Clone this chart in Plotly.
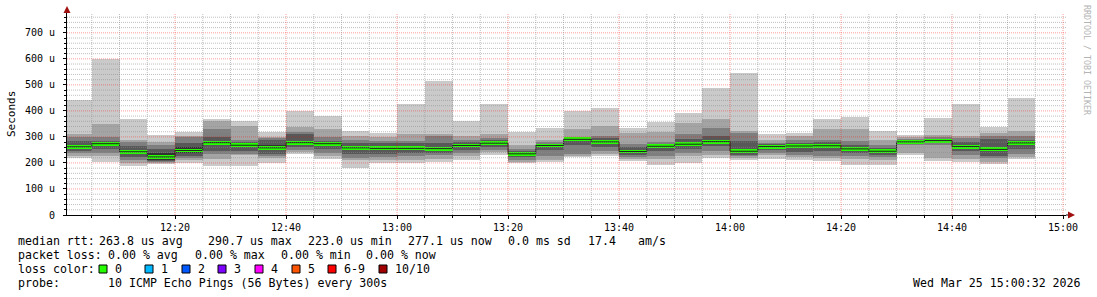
import plotly.graph_objects as go
import pandas as pd

# ---------------- data ----------------
bar_start = ["12:00", "12:05", "12:10", "12:15", "12:20", "12:25", "12:30", "12:35", "12:40", "12:45",
             "12:50", "12:55", "13:00", "13:05", "13:10", "13:15", "13:20", "13:25", "13:30", "13:35",
             "13:40", "13:45", "13:50", "13:55", "14:00", "14:05", "14:10", "14:15", "14:20", "14:25",
             "14:30", "14:35", "14:40", "14:45", "14:50"]
# sorted ping round-trip times per 5-minute step, in microseconds
ping1 = [218, 205, 188, 196, 200, 190, 190, 198, 235, 216, 182, 198, 200, 205, 213, 231, 198, 204, 221, 227,
         208, 193, 198, 218, 213, 216, 210, 207, 193, 192, 229, 209, 204, 195, 216]
ping2 = [228, 225, 200, 200, 210, 215, 230, 218, 242, 228, 210, 212, 210, 215, 225, 243, 205, 212, 228, 235,
         215, 215, 225, 230, 218, 232, 222, 218, 215, 210, 237, 220, 215, 205, 222]
ping3 = [237, 240, 212, 203, 218, 235, 235, 225, 250, 240, 220, 222, 225, 230, 238, 250, 210, 225, 235, 245,
         222, 228, 240, 245, 225, 238, 232, 228, 228, 222, 268, 268, 232, 218, 235]
ping4 = [245, 255, 222, 207, 228, 245, 245, 235, 260, 255, 235, 235, 240, 240, 250, 262, 222, 250, 270, 260,
         230, 245, 255, 265, 232, 250, 242, 245, 240, 230, 272, 275, 245, 225, 255]
ping5 = [255, 265, 235, 212, 238, 270, 260, 250, 270, 268, 250, 248, 250, 250, 262, 271, 230, 262, 285, 275,
         238, 258, 266, 276, 238, 258, 258, 260, 248, 240, 278, 283, 255, 245, 272]
ping6 = [268, 278, 250, 240, 260, 285, 275, 270, 285, 278, 265, 262, 262, 260, 272, 281, 240, 270, 293, 287,
         250, 268, 280, 290, 255, 267, 270, 272, 262, 250, 284, 289, 268, 260, 281]
ping7 = [285, 285, 265, 255, 275, 300, 280, 288, 310, 285, 275, 275, 275, 275, 280, 288, 245, 272, 296, 295,
         262, 272, 292, 305, 285, 272, 278, 280, 270, 258, 287, 292, 280, 293, 290]
ping8 = [300, 298, 280, 268, 300, 330, 290, 295, 318, 300, 290, 285, 286, 305, 290, 296, 255, 280, 300, 305,
         274, 280, 312, 336, 315, 278, 290, 290, 285, 268, 292, 300, 295, 305, 304]
ping9 = [313, 350, 290, 280, 305, 360, 342, 300, 340, 332, 305, 300, 312, 310, 302, 312, 270, 290, 332, 343,
         315, 318, 354, 369, 323, 288, 304, 331, 332, 290, 300, 308, 305, 315, 323]
ping10 = [440, 600, 370, 308, 318, 370, 362, 318, 398, 380, 322, 316, 427, 516, 362, 427, 318, 336, 400, 413,
          336, 359, 392, 489, 546, 312, 316, 368, 378, 322, 307, 374, 427, 338, 451]
median = [262, 274, 243, 223, 248, 278, 268, 258, 278, 274, 258, 256, 256, 255, 267, 276, 235, 267, 290.7, 281,
          244, 264, 272, 282, 245, 263, 265, 266, 254, 245, 281, 286, 263, 252, 277.1]

y_tick_vals = [0, 100, 200, 300, 400, 500, 600, 700]
y_tick_text = ["0", "100 u", "200 u", "300 u", "400 u", "500 u", "600 u", "700 u"]

legend_row1 = [("median rtt:", 16), ("263.8 us avg", 97), ("290.7 us max", 206), ("223.0 us min", 306),
               ("277.1 us now", 406), ("0.0 ms sd", 506), ("17.4", 586), ("am/s", 636)]
legend_row2 = [("packet loss:", 16), ("0.00 % avg", 106), ("0.00 % max", 193), ("0.00 % min", 279),
               ("0.00 % now", 364)]
loss_labels = ["0", "1", "2", "3", "4", "5", "6-9", "10/10"]
loss_colors = ["#26ff00", "#00b8ff", "#0059ff", "#7e00ff", "#ff00ff", "#ff5500", "#ff0000", "#a00000"]
loss_box_x = [99, 145, 182, 218, 255, 292, 328, 379]
probe_text = "10 ICMP Echo Pings (56 Bytes) every 300s"
stamp_text = "Wed Mar 25 15:00:32 2026"

# ---------------- geometry ----------------
W, H = 1097, 297
L, R, T, B = 67, 31, 12, 82
PW = W - L - R
PH = H - T - B
Y_BOTTOM = H - B


def px(x):
    return (x - L) / PW


def py(y):
    return (Y_BOTTOM - y) / PH


day = "2026-03-25 "
starts = pd.to_datetime([day + s for s in bar_start])
centers = starts + pd.Timedelta(minutes=2.5)
ends = starts + pd.Timedelta(minutes=5)

fig = go.Figure()

pings = [ping1, ping2, ping3, ping4, ping5, ping6, ping7, ping8, ping9, ping10]
band_colors = ["#cacaca", "#a4a4a4", "#7e7e7e", "#585858", "#323232"]
for k in range(5):
    lo = pings[k]
    hi = pings[9 - k]
    fig.add_trace(go.Bar(
        x=centers, base=lo, y=[h - l for h, l in zip(hi, lo)], width=300000,
        marker=dict(color=band_colors[k], line=dict(width=0)),
        hoverinfo="skip", showlegend=False))

# dark median step line
fig.add_trace(go.Scatter(
    x=list(starts) + [ends[-1]], y=median + [median[-1]], mode="lines",
    line=dict(shape="hv", color="#202020", width=1), hoverinfo="skip", showlegend=False))

# loss-coloured median band
fig.add_trace(go.Bar(
    x=centers, base=[m - 7.5 for m in median], y=[15] * len(median), width=300000,
    marker=dict(color=loss_colors[0], line=dict(width=0)), hoverinfo="skip", showlegend=False))

mono = "DejaVu Sans Mono"
x0 = pd.Timestamp("2026-03-25 12:00:32")
x1 = pd.Timestamp("2026-03-25 15:00:32")

fig.update_layout(
    width=W, height=H, margin=dict(l=L, r=R, t=T, b=B, pad=0),
    paper_bgcolor="white", plot_bgcolor="white", barmode="overlay", bargap=0,
    showlegend=False, font=dict(family=mono, color="black"))

fig.update_xaxes(
    range=[x0, x1], tickformat="%H:%M", dtick=20 * 60 * 1000, tick0="2026-03-25 12:00:00",
    showgrid=False, zeroline=False, showline=True, linecolor="black", linewidth=1,
    ticks="outside", ticklen=3, tickcolor="black", tickfont=dict(family=mono, size=10, color="black"),
    minor=dict(dtick=5 * 60 * 1000, tick0="2026-03-25 12:00:00", ticks="outside", ticklen=2,
               tickcolor="black", showgrid=False))
fig.update_yaxes(
    range=[0, 780], tickvals=y_tick_vals, ticktext=y_tick_text, showgrid=False, zeroline=False,
    showline=True, linecolor="black", linewidth=1, ticks="outside", ticklen=3, tickcolor="black",
    tickfont=dict(family=mono, size=10, color="black"), ticklabelstandoff=6,
    minor=dict(dtick=20, ticks="outside", ticklen=2, tickcolor="black", showgrid=False))

shapes = []
minor_col = "rgba(140,140,140,0.55)"
major_col = "rgba(255,0,0,0.38)"
for v in range(20, 780, 20):
    shapes.append(dict(type="line", xref="paper", yref="y", x0=0, x1=1, y0=v, y1=v, layer="above",
                       line=dict(color=major_col if v % 100 == 0 else minor_col, width=1, dash="1px,1px")))
t = pd.Timestamp("2026-03-25 12:05:00")
while t <= pd.Timestamp("2026-03-25 15:00:00"):
    shapes.append(dict(type="line", xref="x", yref="paper", x0=t, x1=t, y0=0, y1=py(13), layer="above",
                       line=dict(color=major_col if t.minute % 20 == 0 else minor_col, width=1,
                                 dash="1px,1px")))
    t += pd.Timedelta(minutes=5)

arrow_col = "#a01010"
# top arrow on the y axis
shapes.append(dict(type="path", xref="paper", yref="paper", layer="above",
                   path=f"M {px(63.5)} {py(13)} L {px(70.5)} {py(13)} L {px(67)} {py(6)} Z",
                   fillcolor=arrow_col, line=dict(width=0)))
# right arrow on the x axis
shapes.append(dict(type="line", xref="paper", yref="paper", x0=1, x1=px(1068), y0=0, y1=0,
                   line=dict(color="black", width=1)))
shapes.append(dict(type="path", xref="paper", yref="paper", layer="above",
                   path=f"M {px(1068)} {py(211.5)} L {px(1068)} {py(218.5)} L {px(1075)} {py(215)} Z",
                   fillcolor=arrow_col, line=dict(width=0)))

# loss colour boxes
for bx, col in zip(loss_box_x, loss_colors):
    shapes.append(dict(type="rect", xref="paper", yref="paper", x0=px(bx), x1=px(bx + 8),
                       y0=py(273), y1=py(265), fillcolor=col, line=dict(color="black", width=1)))

fig.update_layout(shapes=shapes)

ann = []
LF = 11.6


def text(s, x, y, size=LF, anchor="left", color="black", angle=0):
    ann.append(dict(text=s, x=px(x), y=py(y), xref="paper", yref="paper", showarrow=False,
                    xanchor=anchor, yanchor="middle", textangle=angle,
                    font=dict(family=mono, size=size, color=color)))


for s, x in legend_row1:
    text(s, x, 241)
for s, x in legend_row2:
    text(s, x, 255)
text("loss color:", 16, 269)
for bx, lab in zip(loss_box_x, loss_labels):
    text(lab, bx + 14, 269)
text("probe:", 16, 283)
text(probe_text, 106, 283)
text(stamp_text, 1083, 283, anchor="right")

text("Seconds", 11, 114, size=11, anchor="center", angle=-90)
text("RRDTOOL / TOBI OETIKER", 1087, 60, size=8.3, anchor="center", color="#b4b4b4", angle=90)

fig.update_layout(annotations=ann)

fig.write_html("out.html")
